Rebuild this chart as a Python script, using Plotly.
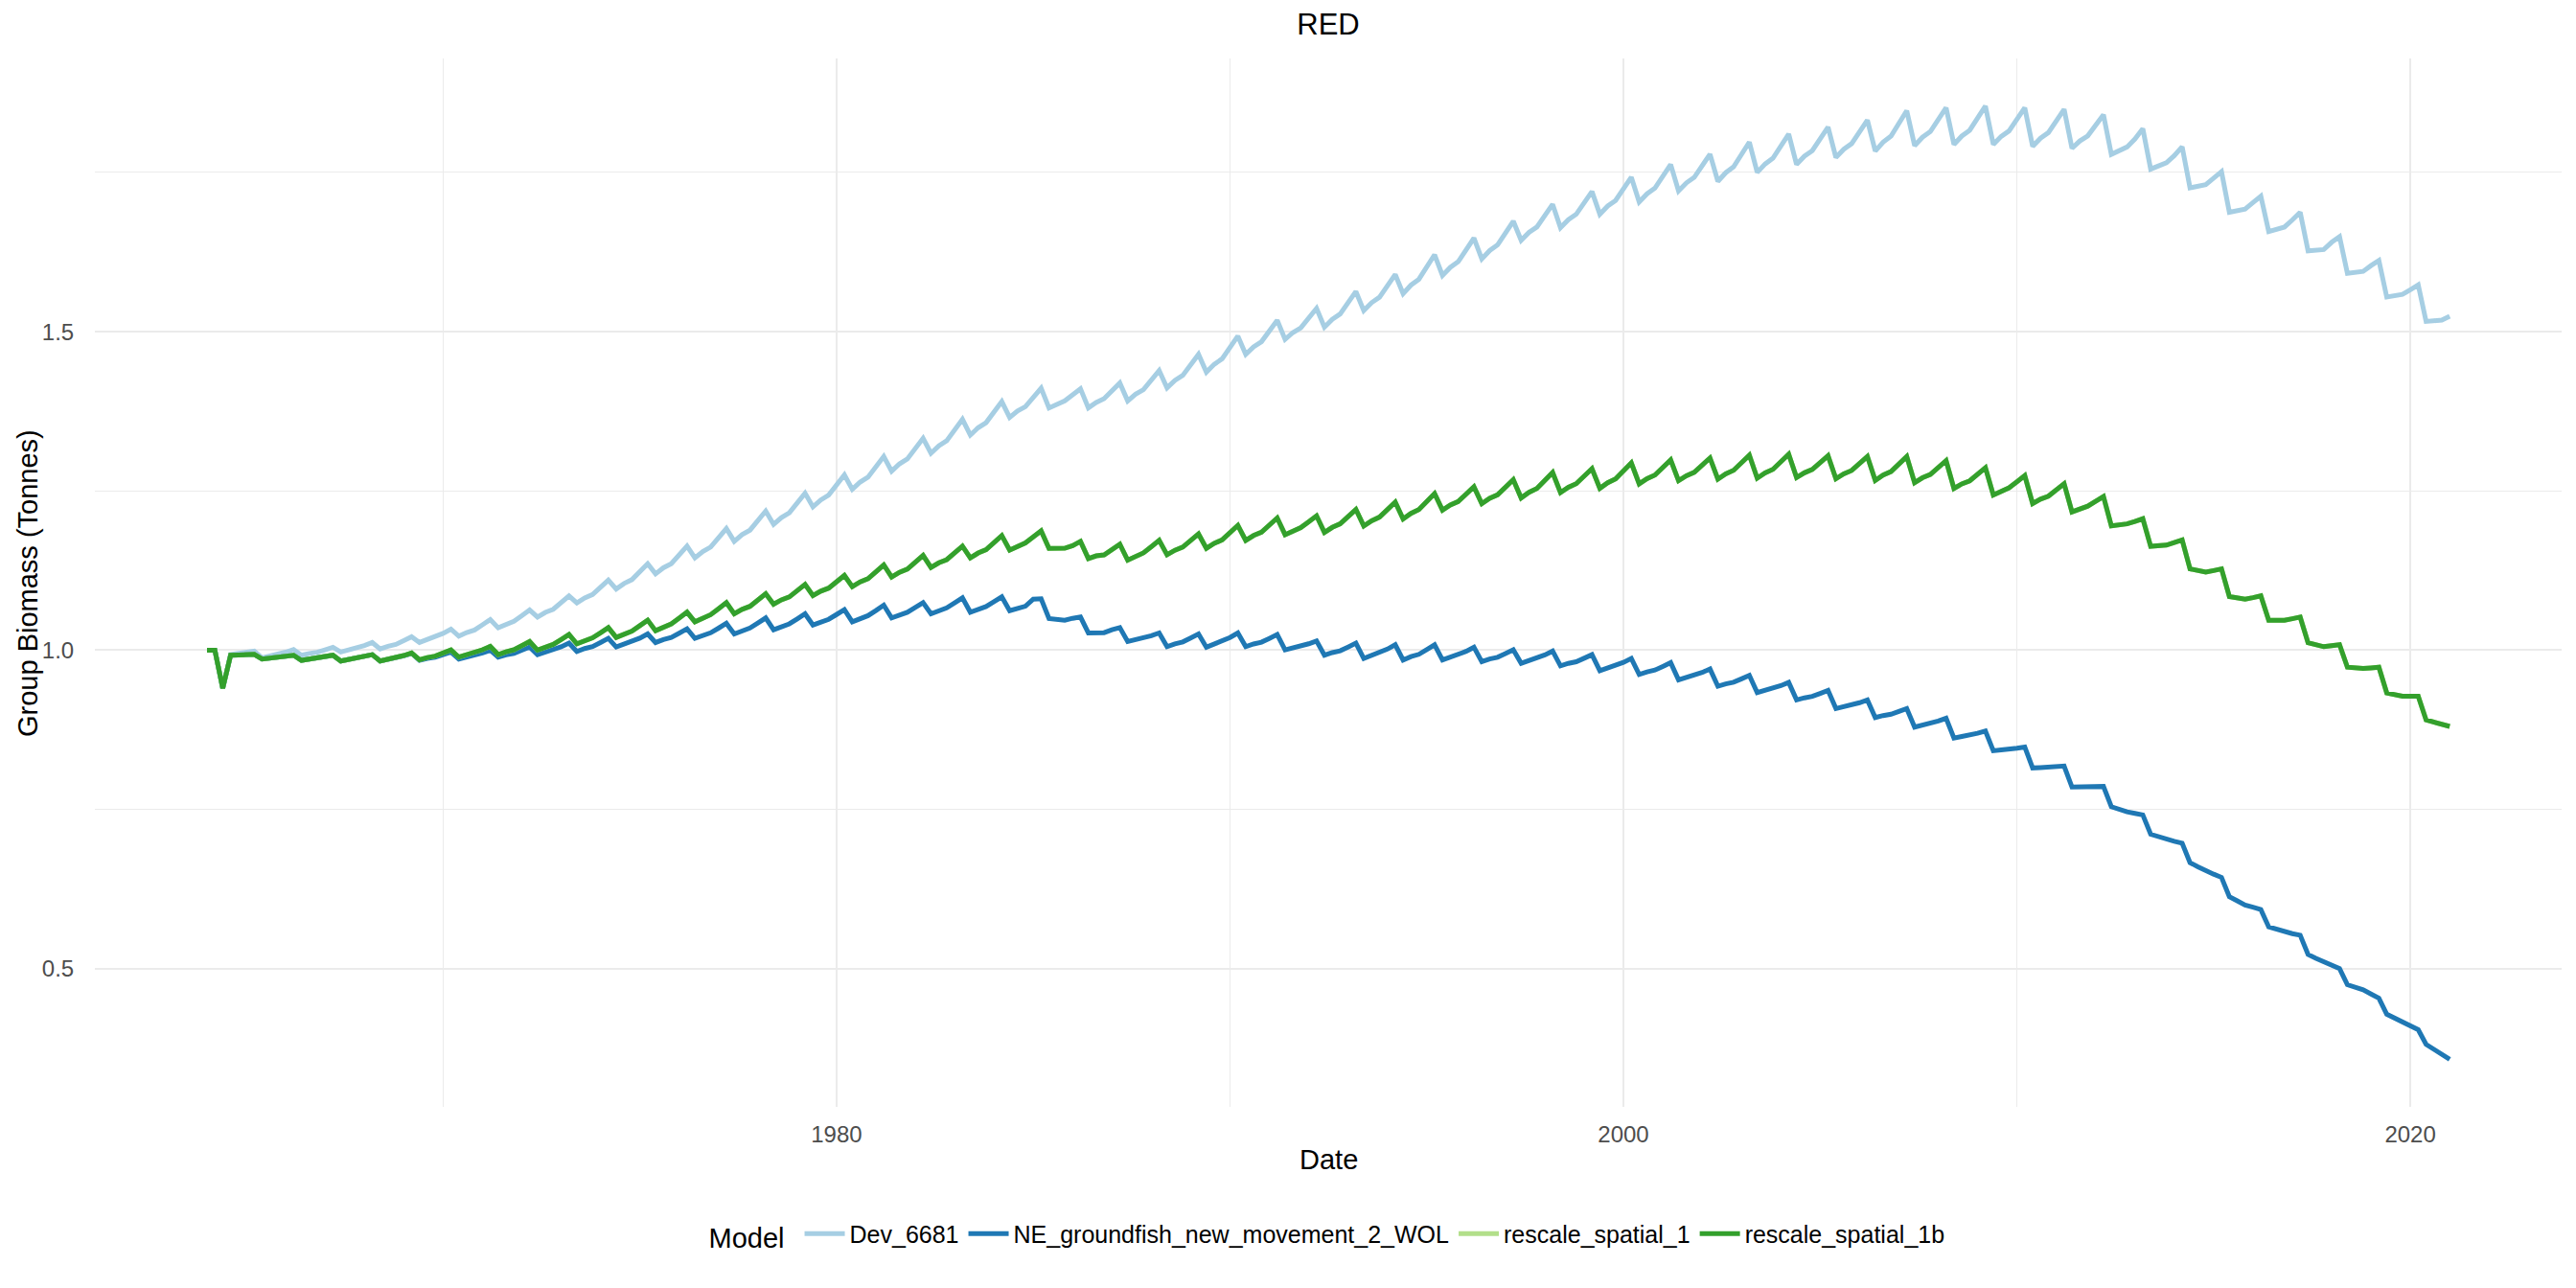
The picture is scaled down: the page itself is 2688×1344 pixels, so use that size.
import plotly.graph_objects as go
import pandas as pd

# ── Theme (ggplot2 theme_minimal look) ──────────────────────────
FONT        = "Liberation Sans, Arial, Helvetica, sans-serif"
GRID_COLOR  = "#EBEBEB"
TICK_COLOR  = "#4D4D4D"

MODELS = ["Dev_6681", "NE_groundfish_new_movement_2_WOL",
          "rescale_spatial_1", "rescale_spatial_1b"]
COLORS = ["#A6CEE3", "#1F78B4", "#B2DF8A", "#33A02C"]

# ── Data: relative group biomass, 5 outputs a year, 1964.0 .. 2021.0 ──
# each row = one year (steps at .0 .2 .4 .6 .8), last value = 2021.0
dev_6681 = [
    1.000, 1.000, 0.940, 0.993, 0.995,        # 1964
    0.997, 0.9985, 0.988, 0.9909, 0.9928,
    0.9968, 1.001, 0.992, 0.9948, 0.9966,
    1.0005, 1.0045, 0.997, 1.0003, 1.0026,
    1.0072, 1.012, 1.002, 1.0062, 1.0090,
    1.0149, 1.021, 1.012, 1.0166, 1.0198,
    1.0263, 1.033, 1.022, 1.0277, 1.0316,     # 1970
    1.0397, 1.048, 1.035, 1.0412, 1.0454,
    1.0540, 1.063, 1.052, 1.0593, 1.0642,
    1.0744, 1.085, 1.074, 1.0819, 1.0873,
    1.0985, 1.110, 1.096, 1.1047, 1.1107,
    1.1230, 1.1357, 1.1197, 1.1293, 1.1358,
    1.1493, 1.1633, 1.1448, 1.1549, 1.1619,
    1.1761, 1.1909, 1.1708, 1.1813, 1.1884,
    1.2032, 1.2184, 1.1974, 1.2082, 1.2156,
    1.2308, 1.2465, 1.2249, 1.2359, 1.2435,
    1.2590, 1.2751, 1.2525, 1.2639, 1.2716,   # 1980
    1.2876, 1.3041, 1.2811, 1.2925, 1.3002,
    1.3162, 1.3327, 1.3091, 1.3208, 1.3288,
    1.3453, 1.3623, 1.3377, 1.3493, 1.3572,
    1.3735, 1.3903, 1.3653, 1.3754, 1.3823,
    1.3966, 1.4113, 1.3803, 1.3869, 1.3914,
    1.4008, 1.4104, 1.3803, 1.3889, 1.3948,
    1.4069, 1.4194, 1.3913, 1.4018, 1.4089,
    1.4237, 1.4390, 1.4119, 1.4235, 1.4314,
    1.4477, 1.4645, 1.4364, 1.4489, 1.4574,
    1.4750, 1.4931, 1.4645, 1.4763, 1.4843,   # 1990
    1.5009, 1.5180, 1.4880, 1.4987, 1.5060,
    1.5211, 1.5367, 1.5071, 1.5194, 1.5278,
    1.5452, 1.5631, 1.5331, 1.5456, 1.5541,
    1.5717, 1.5898, 1.5597, 1.5732, 1.5823,
    1.6013, 1.6209, 1.5882, 1.6011, 1.6099,
    1.6281, 1.6469, 1.6143, 1.6273, 1.6362,
    1.6546, 1.6735, 1.6434, 1.6559, 1.6643,
    1.6819, 1.7000, 1.6634, 1.6759, 1.6844,
    1.7020, 1.7201, 1.6845, 1.6973, 1.7060,
    1.7240, 1.7426, 1.7036, 1.7166, 1.7254,   # 2000
    1.7437, 1.7626, 1.7210, 1.7337, 1.7423,
    1.7602, 1.7787, 1.7360, 1.7496, 1.7588,
    1.7780, 1.7977, 1.7501, 1.7633, 1.7724,
    1.7910, 1.8103, 1.7626, 1.7755, 1.7843,
    1.8025, 1.8213, 1.7736, 1.7865, 1.7953,
    1.8134, 1.8322, 1.7837, 1.7976, 1.8071,
    1.8267, 1.8470, 1.7922, 1.8053, 1.8142,
    1.8326, 1.8516, 1.7939, 1.8072, 1.8162,
    1.8349, 1.8542, 1.7939, 1.8066, 1.8152,
    1.8331, 1.8516, 1.7911, 1.8039, 1.8126,   # 2010
    1.8306, 1.8492, 1.7879, 1.7995, 1.8074,
    1.8238, 1.8407, 1.7784, 1.7840, 1.7900,
    1.8026, 1.8187, 1.7553, 1.7600, 1.7653,
    1.7764, 1.7904, 1.7259, 1.7285, 1.7309,
    1.7411, 1.7512, 1.6876, 1.6900, 1.6926,
    1.7027, 1.7128, 1.6572, 1.6605, 1.6643,
    1.6754, 1.6876, 1.6270, 1.6280, 1.6290,
    1.6404, 1.6493, 1.5917, 1.5930, 1.5947,
    1.6038, 1.6118, 1.5544, 1.5565, 1.5585,
    1.5659, 1.5735, 1.5161, 1.5170, 1.5181,   # 2020
    1.5242,
]

ne_groundfish_wol = [
    1.000, 1.000, 0.940, 0.992, 0.9925,       # 1964
    0.993, 0.9934, 0.986, 0.9873, 0.9882,
    0.9901, 0.992, 0.984, 0.9858, 0.9870,
    0.9894, 0.992, 0.983, 0.9852, 0.9867,
    0.9898, 0.993, 0.983, 0.9856, 0.9874,
    0.9912, 0.995, 0.984, 0.9869, 0.9888,
    0.9928, 0.997, 0.986, 0.9891, 0.9912,     # 1970
    0.9955, 1.000, 0.989, 0.9925, 0.9949,
    0.9999, 1.005, 0.993, 0.9970, 0.9997,
    1.0052, 1.011, 0.998, 1.0025, 1.0056,
    1.0119, 1.0185, 1.005, 1.0095, 1.0126,
    1.0189, 1.0255, 1.0120, 1.0167, 1.0200,
    1.0266, 1.0335, 1.0185, 1.0237, 1.0272,
    1.0345, 1.0421, 1.0255, 1.0310, 1.0348,
    1.0426, 1.0506, 1.0320, 1.0375, 1.0413,
    1.0491, 1.0571, 1.0395, 1.0448, 1.0484,
    1.0559, 1.0636, 1.0445, 1.0502, 1.0542,   # 1980
    1.0622, 1.0706, 1.0506, 1.0559, 1.0595,
    1.0669, 1.0746, 1.0571, 1.0626, 1.0664,
    1.0741, 1.0821, 1.0596, 1.0649, 1.0685,
    1.0759, 1.0836, 1.0620, 1.0661, 1.0689,
    1.0800, 1.0806, 1.0496, 1.0483, 1.0470,
    1.0500, 1.0521, 1.0270, 1.0270, 1.0275,
    1.0320, 1.0355, 1.0135, 1.0165, 1.0185,
    1.0227, 1.0270, 1.0055, 1.0099, 1.0129,
    1.0191, 1.0255, 1.0045, 1.0095, 1.0128,
    1.0198, 1.0270, 1.0055, 1.0097, 1.0125,   # 1990
    1.0184, 1.0245, 1.0005, 1.0036, 1.0057,
    1.0100, 1.0145, 0.9920, 0.9962, 0.9990,
    1.0049, 1.0110, 0.9870, 0.9917, 0.9950,
    1.0016, 1.0085, 0.9845, 0.9898, 0.9934,
    1.0008, 1.0085, 0.9845, 0.9889, 0.9919,
    0.9981, 1.0045, 0.9820, 0.9861, 0.9888,
    0.9946, 1.0005, 0.9794, 0.9836, 0.9865,
    0.9924, 0.9985, 0.9753, 0.9792, 0.9818,
    0.9873, 0.9929, 0.9678, 0.9720, 0.9749,
    0.9808, 0.9869, 0.9618, 0.9659, 0.9687,   # 2000
    0.9744, 0.9804, 0.9534, 0.9571, 0.9597,
    0.9650, 0.9704, 0.9433, 0.9470, 0.9496,
    0.9549, 0.9603, 0.9333, 0.9368, 0.9392,
    0.9442, 0.9493, 0.9218, 0.9251, 0.9274,
    0.9320, 0.9368, 0.9083, 0.9113, 0.9133,
    0.9175, 0.9218, 0.8942, 0.8973, 0.8994,
    0.9038, 0.9083, 0.8791, 0.8822, 0.8842,
    0.8886, 0.8930, 0.8620, 0.8644, 0.8661,
    0.8695, 0.8730, 0.8420, 0.8433, 0.8442,
    0.8461, 0.8480, 0.8150, 0.8157, 0.8161,   # 2010
    0.8170, 0.8180, 0.7850, 0.7852, 0.7854,
    0.7856, 0.7860, 0.7542, 0.7500, 0.7462,
    0.7437, 0.7412, 0.7109, 0.7068, 0.7028,
    0.6998, 0.6968, 0.6664, 0.6598, 0.6533,
    0.6483, 0.6432, 0.6130, 0.6064, 0.5998,
    0.5963, 0.5927, 0.5655, 0.5615, 0.5574,
    0.5549, 0.5524, 0.5221, 0.5161, 0.5101,
    0.5050, 0.5000, 0.4747, 0.4706, 0.4666,
    0.4600, 0.4535, 0.4283, 0.4223, 0.4163,
    0.4102, 0.4041, 0.3810, 0.3734, 0.3658,   # 2020
    0.3577,
]

rescale_spatial_1b = [
    1.000, 1.000, 0.940, 0.992, 0.9925,       # 1964
    0.993, 0.9934, 0.986, 0.9873, 0.9882,
    0.9901, 0.992, 0.984, 0.9858, 0.9870,
    0.9894, 0.992, 0.983, 0.9852, 0.9867,
    0.9898, 0.993, 0.983, 0.9858, 0.9876,
    0.9915, 0.9955, 0.985, 0.9884, 0.9907,
    0.9955, 1.0005, 0.989, 0.9927, 0.9953,    # 1970
    1.0006, 1.006, 0.993, 0.9975, 1.0006,
    1.0069, 1.0135, 1.000, 1.0054, 1.0091,
    1.0167, 1.0245, 1.010, 1.0156, 1.0194,
    1.0273, 1.0355, 1.020, 1.0260, 1.0300,
    1.0384, 1.0471, 1.0305, 1.0369, 1.0413,
    1.0503, 1.0596, 1.0445, 1.0511, 1.0556,
    1.0650, 1.0746, 1.0571, 1.0641, 1.0688,
    1.0786, 1.0887, 1.0722, 1.0790, 1.0836,
    1.0932, 1.1031, 1.0857, 1.0927, 1.0974,
    1.1072, 1.1173, 1.0997, 1.1072, 1.1123,   # 1980
    1.1229, 1.1338, 1.1147, 1.1222, 1.1273,
    1.1379, 1.1488, 1.1297, 1.1371, 1.1421,
    1.1525, 1.1633, 1.1448, 1.1525, 1.1578,
    1.1686, 1.1798, 1.1572, 1.1638, 1.1683,
    1.1777, 1.1873, 1.1598, 1.1598, 1.1600,
    1.1640, 1.1708, 1.1437, 1.1480, 1.1495,
    1.1590, 1.1663, 1.1412, 1.1480, 1.1527,
    1.1623, 1.1723, 1.1497, 1.1569, 1.1618,
    1.1719, 1.1824, 1.1598, 1.1677, 1.1732,
    1.1843, 1.1959, 1.1723, 1.1800, 1.1853,   # 1990
    1.1962, 1.2075, 1.1813, 1.1878, 1.1923,
    1.2014, 1.2109, 1.1849, 1.1928, 1.1983,
    1.2094, 1.2210, 1.1949, 1.2032, 1.2088,
    1.2204, 1.2324, 1.2060, 1.2148, 1.2208,
    1.2331, 1.2459, 1.2199, 1.2280, 1.2334,
    1.2448, 1.2565, 1.2300, 1.2383, 1.2439,
    1.2556, 1.2676, 1.2390, 1.2478, 1.2538,
    1.2662, 1.2790, 1.2474, 1.2557, 1.2613,
    1.2730, 1.2850, 1.2540, 1.2628, 1.2688,
    1.2812, 1.2940, 1.2610, 1.2693, 1.2749,   # 2000
    1.2866, 1.2986, 1.2661, 1.2739, 1.2792,
    1.2902, 1.3016, 1.2685, 1.2768, 1.2824,
    1.2941, 1.3061, 1.2700, 1.2783, 1.2839,
    1.2956, 1.3076, 1.2710, 1.2785, 1.2836,
    1.2942, 1.3051, 1.2691, 1.2768, 1.2821,
    1.2929, 1.3041, 1.2665, 1.2748, 1.2804,
    1.2920, 1.3040, 1.2630, 1.2706, 1.2758,
    1.2865, 1.2975, 1.2538, 1.2610, 1.2659,
    1.2760, 1.2865, 1.2437, 1.2503, 1.2549,
    1.2642, 1.2739, 1.2302, 1.2371, 1.2417,   # 2010
    1.2514, 1.2614, 1.2171, 1.2224, 1.2261,
    1.2336, 1.2413, 1.1951, 1.1960, 1.1983,
    1.2020, 1.2063, 1.1630, 1.1635, 1.1649,
    1.1690, 1.1730, 1.1276, 1.1250, 1.1225,
    1.1250, 1.1276, 1.0842, 1.0820, 1.0801,
    1.0825, 1.0852, 1.0469, 1.0469, 1.0469,
    1.0494, 1.0519, 1.0116, 1.0085, 1.0054,
    1.0070, 1.0086, 0.9732, 0.9722, 0.9712,
    0.9722, 0.9732, 0.9328, 0.9303, 0.9278,
    0.9278, 0.9278, 0.8904, 0.8864, 0.8824,   # 2020
    0.8803,
]

# identical run; it sits hidden underneath rescale_spatial_1b
rescale_spatial_1 = list(rescale_spatial_1b)

Y_TICKS       = [0.5, 1.0, 1.5]
Y_TICK_TEXT   = ["0.5", "1.0", "1.5"]
Y_MINOR_TICKS = [0.75, 1.25, 1.75]
X_TICKS       = ["1980-01-01", "2000-01-01", "2020-01-01"]
X_TICK_TEXT   = ["1980", "2000", "2020"]
X_MINOR_TICKS = ["1970-01-01", "1990-01-01", "2010-01-01"]

dates = pd.date_range("1964-01-01", "2021-01-01", periods=len(dev_6681))

series = [dev_6681, ne_groundfish_wol, rescale_spatial_1, rescale_spatial_1b]

# page body has an 8px margin, so the figure is 8px smaller each way
W, H = 2680, 1336

fig = go.Figure()
for name, color, values in zip(MODELS, COLORS, series):
    fig.add_trace(go.Scatter(
        x=dates,
        y=values,
        mode="lines",
        name=name,
        line=dict(color=color, width=5),
    ))

fig.update_layout(
    width=W,
    height=H,
    paper_bgcolor="white",
    plot_bgcolor="white",
    margin=dict(l=91, r=15, t=53, b=189, pad=0),
    font=dict(family=FONT, color="black", size=25),
    title=dict(
        text="RED",
        font=dict(size=31, color="black", family=FONT),
        x=0.5, xref="paper", xanchor="center",
        y=1 - 17 / H, yref="container", yanchor="middle",
    ),
    showlegend=True,
    legend=dict(
        orientation="h",
        x=0.5, xanchor="center",
        y=-0.122, yanchor="middle",
        title=dict(text="Model ", side="left", font=dict(size=29, color="black")),
        font=dict(size=25, color="black"),
        bgcolor="rgba(0,0,0,0)",
        itemwidth=42,
    ),
    xaxis=dict(
        type="date",
        range=["1961-02-24", "2023-11-06"],
        tickmode="array",
        tickvals=X_TICKS,
        ticktext=X_TICK_TEXT,
        showgrid=True, gridcolor=GRID_COLOR, gridwidth=2.4,
        minor=dict(tickvals=X_MINOR_TICKS, showgrid=True,
                   gridcolor=GRID_COLOR, gridwidth=1.2),
        zeroline=False, showline=False,
        ticks="outside", ticklen=7, tickcolor="rgba(0,0,0,0)",
        tickfont=dict(size=24, color=TICK_COLOR),
    ),
    yaxis=dict(
        range=[0.2829, 1.929],
        tickmode="array",
        tickvals=Y_TICKS,
        ticktext=Y_TICK_TEXT,
        showgrid=True, gridcolor=GRID_COLOR, gridwidth=2.4,
        minor=dict(tickvals=Y_MINOR_TICKS, showgrid=True,
                   gridcolor=GRID_COLOR, gridwidth=1.2),
        zeroline=False, showline=False,
        ticks="outside", ticklen=16, tickcolor="rgba(0,0,0,0)",
        tickfont=dict(size=24, color=TICK_COLOR),
    ),
    annotations=[
        dict(text="Date", xref="paper", yref="paper",
             x=0.5, y=-0.0503, xanchor="center", yanchor="middle",
             showarrow=False, font=dict(size=29, color="black")),
        dict(text="Group Biomass (Tonnes)", xref="paper", yref="paper",
             x=-0.0272, y=0.5, xanchor="center", yanchor="middle",
             textangle=-90, showarrow=False,
             font=dict(size=29, color="black")),
    ],
)

fig.write_html("out.html")
